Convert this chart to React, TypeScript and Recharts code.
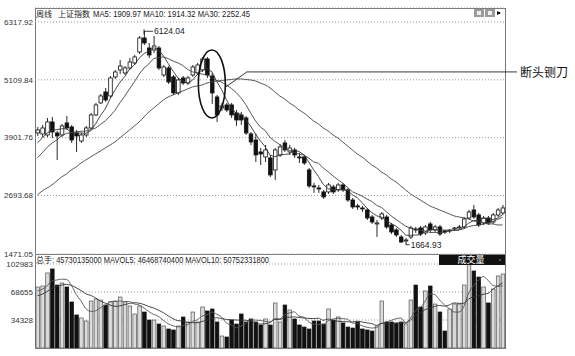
import { ComposedChart, Bar, Line, XAxis, YAxis, CartesianGrid, ReferenceDot } from "recharts"

// weekly candles
const opens = [
  4000, 3979, 3958, 4230, 4000, 3958, 4209, 4125, 4000, 3832,
  3958, 4104, 4376, 4627, 4857, 4773, 5170, 5316, 5253, 5358,
  5462, 5692, 5984, 5775, 5733, 5775, 5211, 5358, 5170, 4836,
  5149, 5044, 5211, 5253, 5316, 5546, 5190, 4752, 4522, 4585,
  4585, 4418, 4376, 4313, 3979, 3853, 3603, 3499, 3478, 3227,
  3540, 3791, 3603, 3645, 3499, 3499, 3227, 2893, 2851, 2768,
  2768, 2872, 2810, 2914, 2810, 2600, 2475, 2433, 2391, 2245,
  2099, 2224, 2245, 2078, 1973, 1827, 1743, 1827, 1994, 2015,
  1911, 2099, 1973, 2036, 1952, 1952, 1994, 2015, 2036, 2224,
  2391, 2287, 2120, 2224, 2140, 2287, 2329,
]
const highs = [
  4125, 4167, 4313, 4334, 4041, 4188, 4355, 4167, 4062, 4000,
  4146, 4418, 4627, 4815, 4940, 5190, 5316, 5525, 5399, 5567,
  5629, 6025, 6124.04, 5880, 6025, 5817, 5420, 5399, 5211, 5149,
  5190, 5190, 5420, 5462, 5588, 5588, 5253, 4794, 4627, 4627,
  4627, 4480, 4439, 4355, 4021, 3990, 3686, 3749, 3540, 3686,
  3770, 3853, 3749, 3686, 3582, 3540, 3269, 2956, 2914, 2810,
  2956, 2914, 2956, 2956, 2851, 2642, 2517, 2475, 2433, 2287,
  2182, 2349, 2287, 2120, 2015, 1869, 1806, 2057, 2036, 2057,
  2078, 2140, 2078, 2078, 1973, 1994, 2036, 2078, 2245, 2391,
  2496, 2329, 2266, 2266, 2329, 2433, 2496,
]
const lows = [
  3937, 3916, 3916, 3895, 3436, 3916, 4062, 3791, 3603, 3791,
  3916, 4062, 4355, 4606, 4648, 4731, 5128, 5232, 5211, 5316,
  5420, 5650, 5838, 5567, 5671, 5316, 5170, 5024, 4794, 4794,
  5003, 5003, 5170, 5211, 5274, 5149, 4606, 4230, 4459, 4439,
  4313, 4146, 4167, 3958, 3749, 3394, 3331, 3394, 3081, 3018,
  3499, 3603, 3540, 3478, 3373, 3331, 2851, 2747, 2747, 2621,
  2726, 2726, 2768, 2768, 2558, 2412, 2391, 2349, 2182, 2099,
  1827, 2182, 1994, 1890, 1827, 1702, 1664.93, 1785, 1911, 1848,
  1869, 1931, 1931, 1848, 1890, 1911, 1952, 1994, 1994, 2182,
  2203, 2036, 2078, 2078, 2099, 2245, 2287,
]
const closes = [
  4062, 4104, 4230, 4021, 3937, 4146, 4104, 3853, 3937, 3958,
  4104, 4376, 4585, 4773, 4689, 5149, 5274, 5399, 5358, 5483,
  5588, 5984, 5880, 5629, 5817, 5358, 5378, 5065, 4836, 5107,
  5044, 5149, 5378, 5420, 5546, 5211, 4836, 4376, 4564, 4480,
  4376, 4271, 4271, 4000, 3812, 3540, 3561, 3645, 3123, 3645,
  3707, 3645, 3686, 3540, 3478, 3373, 2893, 2872, 2830, 2663,
  2914, 2768, 2914, 2810, 2600, 2454, 2454, 2412, 2224, 2140,
  2120, 2308, 2036, 1931, 1869, 1722, 1764, 2015, 1973, 1890,
  2036, 1973, 2036, 1890, 1931, 1973, 2015, 2036, 2203, 2349,
  2245, 2078, 2224, 2120, 2287, 2391, 2433,
]
// closes of the weeks before the window (for MA5 / MA10)
const prevCloses = [3050, 3100, 3150, 3250, 3300, 3600, 3700, 3750, 3850]

// MA30 as drawn
const ma30Values = [
  2705, 2789, 2851, 2914, 2998, 3081, 3144, 3227, 3290, 3373,
  3436, 3499, 3561, 3624, 3686, 3749, 3812, 3895, 3979, 4062,
  4146, 4230, 4334, 4439, 4522, 4606, 4689, 4752, 4794, 4836,
  4877, 4919, 4961, 4982, 5003, 5044, 5065, 5086, 5096, 5107,
  5117, 5128, 5128, 5117, 5107, 5086, 5044, 5003, 4940, 4857,
  4773, 4710, 4627, 4564, 4480, 4418, 4334, 4250, 4188, 4104,
  4041, 3958, 3895, 3812, 3728, 3645, 3561, 3499, 3415, 3331,
  3269, 3185, 3123, 3039, 2977, 2893, 2810, 2726, 2663, 2600,
  2537, 2475, 2433, 2391, 2349, 2308, 2266, 2245, 2224, 2203,
  2161, 2140, 2120, 2099, 2099, 2078, 2078,
]

const volumes = [
  74800, 76000, 92000, 96900, 77200, 79700, 74800, 56400, 40500, 36800,
  33100, 57600, 60100, 58800, 52700, 56400, 57600, 62500, 56400, 51500,
  41700, 51500, 44100, 34300, 34300, 29400, 27000, 23300, 22100, 27000,
  38000, 31900, 44100, 31900, 50300, 45400, 47800, 31900, 14700, 13500,
  34300, 29400, 41700, 31900, 35600, 31900, 28200, 35600, 28200, 55200,
  31900, 52700, 46600, 35600, 28200, 25700, 23300, 33100, 33100, 29400,
  47800, 34300, 38000, 30700, 25700, 24500, 31900, 23300, 22100, 20800,
  27000, 57600, 31900, 31900, 30700, 31900, 29400, 58800, 77200, 50300,
  69900, 76000, 53900, 44100, 20800, 47800, 53900, 53900, 77200, 104200,
  94400, 87000, 74800, 55200, 72300, 88300, 90700,
]
const prevVolumes = [55000, 60000, 58000, 57000, 60000, 66000, 70000, 68000, 71000]

const priceTicks = [1471.05, 2693.68, 3901.76, 5109.84, 6317.92]
const volumeTicks = [34328, 68655, 102983]

const peak = { index: 22, value: 6124.04 }
const trough = { index: 76, value: 1664.93 }
const highlight = { index: 36, value: 5024, label: "断头铡刀" }

const headerCn = ["周线", "上证指数"]
const headerMa = "MA5: 1909.97 MA10: 1914.32 MA30: 2252.45"
const volHeaderCn = "总手"
const volHeaderRest = ": 45730135000 MAVOL5: 46468740400 MAVOL10: 50752331800"
const volTitle = "成交量"

const FONT = "'Liberation Sans', Arial, 'Noto Sans CJK SC', sans-serif"
const CJK = "'Noto Sans CJK SC', sans-serif"

function movingAvg(values: number[], prev: number[], n: number) {
  const all = [...prev, ...values]
  return values.map((_, i) => {
    const end = prev.length + i + 1
    const part = all.slice(Math.max(0, end - n), end)
    return part.reduce((a, b) => a + b, 0) / part.length
  })
}

const ma5 = movingAvg(closes, prevCloses, 5)
const ma10 = movingAvg(closes, prevCloses, 10)
const mavol5 = movingAvg(volumes, prevVolumes, 5)
const mavol10 = movingAvg(volumes, prevVolumes, 10)

const rows = opens.map((open, i) => ({
  i,
  open,
  high: highs[i],
  low: lows[i],
  close: closes[i],
  range: [lows[i], highs[i]],
  ma5: ma5[i],
  ma10: ma10[i],
  ma30: ma30Values[i],
  vol: volumes[i],
  mavol5: mavol5[i],
  mavol10: mavol10[i],
  up: closes[i] >= open,
}))

function Candle(props: any) {
  const { x, y, width, height, payload } = props
  const { open, close, high, low, up } = payload
  const k = height / (high - low)
  const yOf = (v: number) => y + (high - v) * k
  const top = yOf(Math.max(open, close))
  const bottom = yOf(Math.min(open, close))
  const cx = x + width / 2
  return (
    <g>
      <line x1={cx} x2={cx} y1={y} y2={top} stroke="#111" strokeWidth={0.9} />
      <line x1={cx} x2={cx} y1={bottom} y2={y + height} stroke="#111" strokeWidth={0.9} />
      <rect
        x={x}
        y={top}
        width={width}
        height={Math.max(bottom - top, 0.8)}
        fill={up ? "#fff" : "#111"}
        stroke="#111"
        strokeWidth={0.8}
      />
    </g>
  )
}

function VolBar(props: any) {
  const { x, y, width, height, payload } = props
  return (
    <rect
      x={x}
      y={y}
      width={width}
      height={height}
      fill={payload.up ? "#dcdcdc" : "#111"}
      stroke={payload.up ? "#555" : "#111"}
      strokeWidth={0.7}
    />
  )
}

function PeakMark({ cx, cy }: any) {
  return (
    <g>
      <line x1={cx} x2={cx + 9} y1={cy} y2={cy} stroke="#111" strokeWidth={0.8} />
      <line x1={cx} x2={cx} y1={cy - 2} y2={cy + 3} stroke="#111" strokeWidth={0.8} />
      <text x={cx + 10} y={cy + 3} fontSize={8.5} fill="#222" fontFamily={FONT}>
        {peak.value.toFixed(2)}
      </text>
    </g>
  )
}

function TroughMark({ cx, cy }: any) {
  return (
    <g>
      <line x1={cx} x2={cx + 4} y1={cy} y2={cy} stroke="#111" strokeWidth={0.8} />
      <text x={cx + 5} y={cy + 3} fontSize={8.5} fill="#222" fontFamily={FONT}>
        {trough.value.toFixed(2)}
      </text>
    </g>
  )
}

function Highlight({ cx, cy }: any) {
  return (
    <g>
      <ellipse cx={cx} cy={cy} rx={13.5} ry={34} fill="none" stroke="#111" strokeWidth={1.6} />
      <polyline
        points={`${cx + 14},${cy + 3} ${cx + 35},${cy - 12} 517,${cy - 12}`}
        fill="none"
        stroke="#222"
        strokeWidth={0.9}
      />
      <text x={520} y={cy - 12} dominantBaseline="central" fontSize={12} fill="#111" fontFamily={CJK}>
        {highlight.label}
      </text>
    </g>
  )
}

const tickStyle = { fontSize: 8, fill: "#333", fontFamily: FONT }

export default function App() {
  return (
    <div style={{ position: "absolute", left: 0, top: 0, width: 575, height: 356, background: "#fff", overflow: "hidden" }}>
      {/* panel frame */}
      <div style={{ position: "absolute", left: 35, top: 8, width: 469, height: 339, border: "1px solid #777" }} />
      <div style={{ position: "absolute", left: 35, top: 254, width: 470, height: 1, background: "#777" }} />

      <div style={{ position: "absolute", left: 0, top: 0 }}>
        <ComposedChart width={575} height={262} data={rows} margin={{ top: 8, right: 70, bottom: 8, left: 0 }}>
          <CartesianGrid vertical={false} strokeDasharray="1 2" stroke="#999" />
          <XAxis dataKey="i" hide />
          <YAxis
            domain={[1471.05, 6610.4]}
            ticks={priceTicks}
            interval={0}
            allowDataOverflow
            width={35}
            axisLine={false}
            tickLine={false}
            tickSize={0}
            tickMargin={2}
            tick={tickStyle}
            tickFormatter={(v: number) => v.toFixed(2)}
          />
          <Bar dataKey="range" barSize={3.6} shape={Candle} isAnimationActive={false} />
          <Line dataKey="ma5" type="linear" stroke="#333" strokeWidth={0.9} dot={false} isAnimationActive={false} />
          <Line dataKey="ma10" type="linear" stroke="#444" strokeWidth={0.9} dot={false} isAnimationActive={false} />
          <Line dataKey="ma30" type="monotone" stroke="#444" strokeWidth={0.9} dot={false} isAnimationActive={false} />
          <ReferenceDot x={peak.index} y={peak.value} r={0} shape={PeakMark} />
          <ReferenceDot x={trough.index} y={trough.value} r={0} shape={TroughMark} />
          <ReferenceDot x={highlight.index} y={highlight.value} r={0} shape={Highlight} />
        </ComposedChart>
      </div>

      <div style={{ position: "absolute", left: 0, top: 254 }}>
        <ComposedChart width={575} height={96} data={rows} margin={{ top: 0, right: 70, bottom: 2, left: 0 }}>
          <CartesianGrid vertical={false} strokeDasharray="1 2" stroke="#999" />
          <XAxis dataKey="i" hide />
          <YAxis
            domain={[0, 115244]}
            ticks={volumeTicks}
            interval={0}
            allowDataOverflow
            width={35}
            axisLine={false}
            tickLine={false}
            tickSize={0}
            tickMargin={2}
            tick={tickStyle}
          />
          <Bar dataKey="vol" barSize={3.6} shape={VolBar} isAnimationActive={false} />
          <Line dataKey="mavol5" type="monotone" stroke="#555" strokeWidth={0.9} dot={false} isAnimationActive={false} />
          <Line dataKey="mavol10" type="monotone" stroke="#333" strokeWidth={0.9} dot={false} isAnimationActive={false} />
        </ComposedChart>
      </div>

      {/* headers and panel widgets */}
      <svg width={575} height={356} style={{ position: "absolute", left: 0, top: 0, pointerEvents: "none" }}>
        <text x={36} y={17} fontSize={8} fill="#222" fontFamily={CJK}>{headerCn[0]}</text>
        <text x={58} y={17} fontSize={8} fill="#222" fontFamily={CJK}>{headerCn[1]}</text>
        <text x={93} y={17} fontSize={8.5} fill="#222" fontFamily={FONT} textLength={157} lengthAdjust="spacingAndGlyphs">
          {headerMa}
        </text>
        <text x={36} y={263} fontSize={8} fill="#222" fontFamily={CJK}>{volHeaderCn}</text>
        <text x={52} y={263} fontSize={8.5} fill="#222" fontFamily={FONT} textLength={217} lengthAdjust="spacingAndGlyphs">
          {volHeaderRest}
        </text>

        <rect x={474} y={9} width={10} height={8} fill="#9a9a9a" />
        <rect x={485} y={9} width={10} height={8} fill="#9a9a9a" />
        <rect x={477} y={11} width={4} height={4} fill="#eee" />
        <rect x={488} y={11} width={4} height={4} fill="#eee" />
        <polygon points="497,11 501,13 497,15" fill="#111" />
        <rect x={497} y={12} width={3} height={2} fill="#111" />

        <rect x={439} y={255} width={66} height={10} fill="#111" />
        <text x={471} y={263} fontSize={9} fill="#fff" textAnchor="middle" fontFamily={CJK}>{volTitle}</text>
        <circle cx={500} cy={260} r={0.8} fill="#aaa" />
      </svg>
    </div>
  )
}
